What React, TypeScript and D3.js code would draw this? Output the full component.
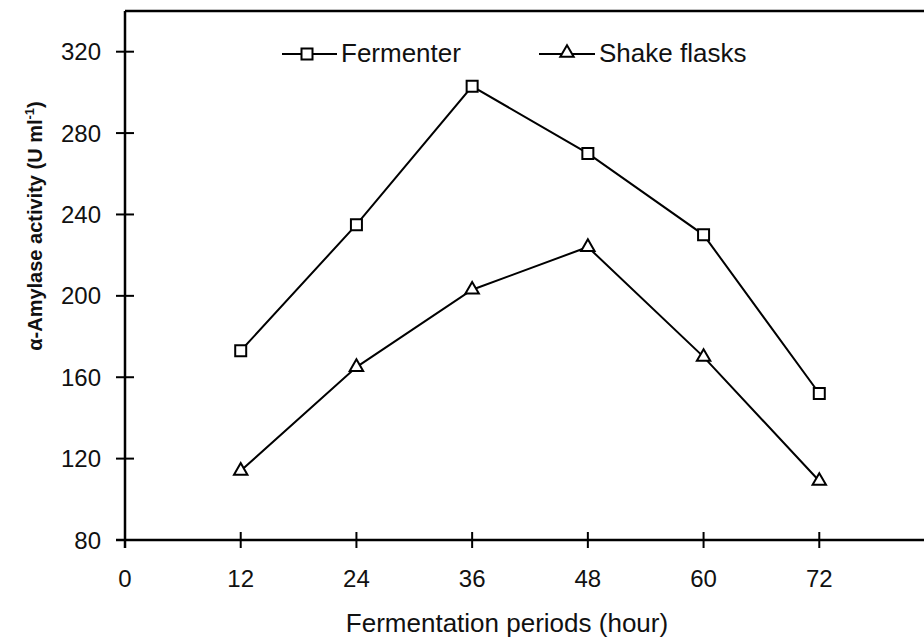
import React from "react";
import * as d3 from "d3";

const hours = [12, 24, 36, 48, 60, 72];
const fermenter = [173, 235, 303, 270, 230, 152];
const shakeFlasks = [114, 165, 203, 224, 170, 109];
const xTicks = [0, 12, 24, 36, 48, 60, 72];
const yTicks = [80, 120, 160, 200, 240, 280, 320];

const W = 924;
const H = 642;
const FONT = "Arial, 'Liberation Sans', sans-serif";

export default function App() {
  const x = d3.scaleLinear().domain([0, 84]).range([125, 935]);
  const y = d3.scaleLinear().domain([80, 340]).range([540, 11]);
  const line = d3
    .line<number>()
    .x((_, i) => x(hours[i]))
    .y((d) => y(d));
  const sq = d3.symbol(d3.symbolSquare, 121)() as string;
  const tri = d3.symbol(d3.symbolTriangle, 78)() as string;
  const x0 = x(0);
  const y0 = y(80);
  const yTop = y(340);

  return (
    <svg
      width={W}
      height={H}
      style={{ position: "absolute", left: 0, top: 0, background: "#fff" }}
      fontFamily={FONT}
    >
      <rect x={0} y={0} width={W} height={H} fill="#fff" />
      {/* frame */}
      <line x1={x0} x2={W} y1={yTop} y2={yTop} stroke="#000" strokeWidth={2.5} />
      <line x1={x0} x2={x0} y1={yTop} y2={y0 + 8} stroke="#000" strokeWidth={2.5} />
      <line x1={x0 - 9} x2={W} y1={y0} y2={y0} stroke="#000" strokeWidth={2.5} />
      {/* y ticks */}
      {yTicks.map((t) => (
        <g key={"y" + t}>
          <line x1={x0 - 9} x2={x0 + 9} y1={y(t)} y2={y(t)} stroke="#000" strokeWidth={2} />
          <text x={101} y={y(t)} dy="0.36em" textAnchor="end" fontSize={24} fill="#111">
            {t}
          </text>
        </g>
      ))}
      {/* x ticks */}
      {xTicks.map((t) => (
        <g key={"x" + t}>
          <line x1={x(t)} x2={x(t)} y1={y0 - 8} y2={y0 + 8} stroke="#000" strokeWidth={2} />
          <text x={x(t)} y={587} textAnchor="middle" fontSize={24} fill="#111">
            {t}
          </text>
        </g>
      ))}
      {/* axis titles */}
      <text x={507} y={632} textAnchor="middle" fontSize={26} fill="#111">
        Fermentation periods (hour)
      </text>
      <text
        transform={`translate(42,226) rotate(-90)`}
        textAnchor="middle"
        fontSize={20}
        fontWeight="bold"
        fill="#111"
      >
        α-Amylase activity (U ml
        <tspan fontSize={13} dy={-8}>-1</tspan>
        <tspan dy={8}>)</tspan>
      </text>
      {/* lines */}
      <path d={line(fermenter) || ""} fill="none" stroke="#000" strokeWidth={2} />
      <path d={line(shakeFlasks) || ""} fill="none" stroke="#000" strokeWidth={2} />
      {fermenter.map((v, i) => (
        <path
          key={"f" + i}
          d={sq}
          transform={`translate(${x(hours[i])},${y(v)})`}
          fill="#fff"
          stroke="#000"
          strokeWidth={2}
        />
      ))}
      {shakeFlasks.map((v, i) => (
        <path
          key={"s" + i}
          d={tri}
          transform={`translate(${x(hours[i])},${y(v)})`}
          fill="#fff"
          stroke="#000"
          strokeWidth={2}
        />
      ))}
      {/* legend */}
      <line x1={282} x2={337} y1={54} y2={54} stroke="#000" strokeWidth={2} />
      <path d={sq} transform="translate(307,54)" fill="#fff" stroke="#000" strokeWidth={2} />
      <text x={341} y={62} fontSize={26} fill="#111">Fermenter</text>
      <line x1={539} x2={595} y1={54} y2={54} stroke="#000" strokeWidth={2} />
      <path d={tri} transform="translate(567,53)" fill="#fff" stroke="#000" strokeWidth={2} />
      <text x={599} y={62} fontSize={26} fill="#111">Shake flasks</text>
    </svg>
  );
}
